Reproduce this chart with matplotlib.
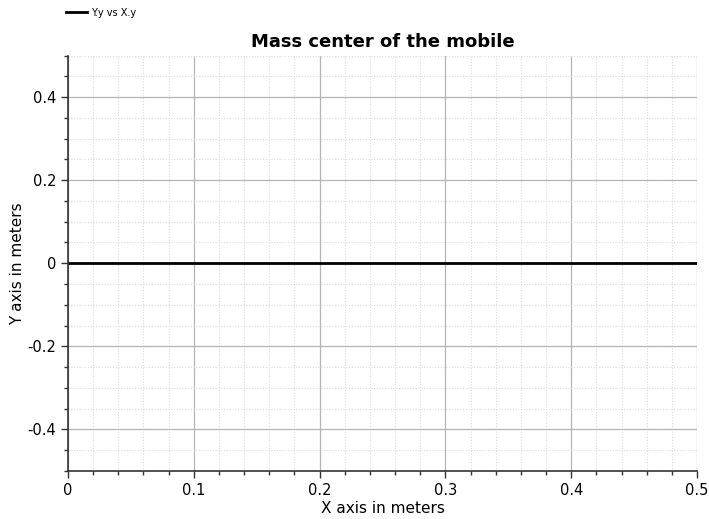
import matplotlib
matplotlib.use("Agg")
import matplotlib.pyplot as plt
from matplotlib.ticker import MultipleLocator, FuncFormatter

x_values = [0.0, 0.5]
y_values = [0.0, 0.0]
series_label = "Y.y vs X.y"
title = "Mass center of the mobile"
x_label = "X axis in meters"
y_label = "Y axis in meters"

fig = plt.figure(figsize=(7.09, 5.19), dpi=100)
W, H = 709, 519
ax_left, ax_right, ax_top, ax_bottom = 68, 697, 55.5, 471
ax = fig.add_axes([ax_left / W, 1 - ax_bottom / H, (ax_right - ax_left) / W, (ax_bottom - ax_top) / H])

ax.plot(x_values, y_values, color="black", linewidth=2, label=series_label)
ax.set_xlim(0, 0.5)
ax.set_ylim(-0.5, 0.5)

ax.xaxis.set_major_locator(MultipleLocator(0.1))
ax.xaxis.set_minor_locator(MultipleLocator(0.02))
ax.yaxis.set_major_locator(MultipleLocator(0.2))
ax.yaxis.set_minor_locator(MultipleLocator(0.05))

def fmt(v, pos):
    if abs(v) < 1e-9:
        return "0"
    return f"{v:g}"
ax.xaxis.set_major_formatter(FuncFormatter(fmt))
ax.yaxis.set_major_formatter(FuncFormatter(fmt))

ax.grid(which="major", color="#b4b4b4", linewidth=0.9, linestyle="-")
ax.grid(which="minor", color="#dcdcdc", linewidth=0.8, linestyle=(0, (1, 1.5)))
ax.set_axisbelow(True)

for s in ["top", "right"]:
    ax.spines[s].set_visible(False)
for s in ["left", "bottom"]:
    ax.spines[s].set_color("#333333")
    ax.spines[s].set_linewidth(1.2)

ax.tick_params(which="major", direction="out", length=5, width=1, color="#333333", labelsize=10.5)
ax.tick_params(which="minor", direction="out", length=3, width=1, color="#333333")

ax.set_xlabel(x_label, fontsize=11, labelpad=2)
ax.set_ylabel(y_label, fontsize=11)
ax.yaxis.set_label_coords((25 - ax_left) / (ax_right - ax_left), 0.5)
ax.set_title(title, fontsize=13, fontweight="bold", pad=6)

handles, labels = ax.get_legend_handles_labels()
fig.legend(handles, labels, loc="upper left", bbox_to_anchor=(62 / W, 1 - 4 / H),
           frameon=False, fontsize=7, handlelength=2.2, handletextpad=0.4,
           borderaxespad=0)

fig.savefig("out.png", dpi=100, facecolor="white")
